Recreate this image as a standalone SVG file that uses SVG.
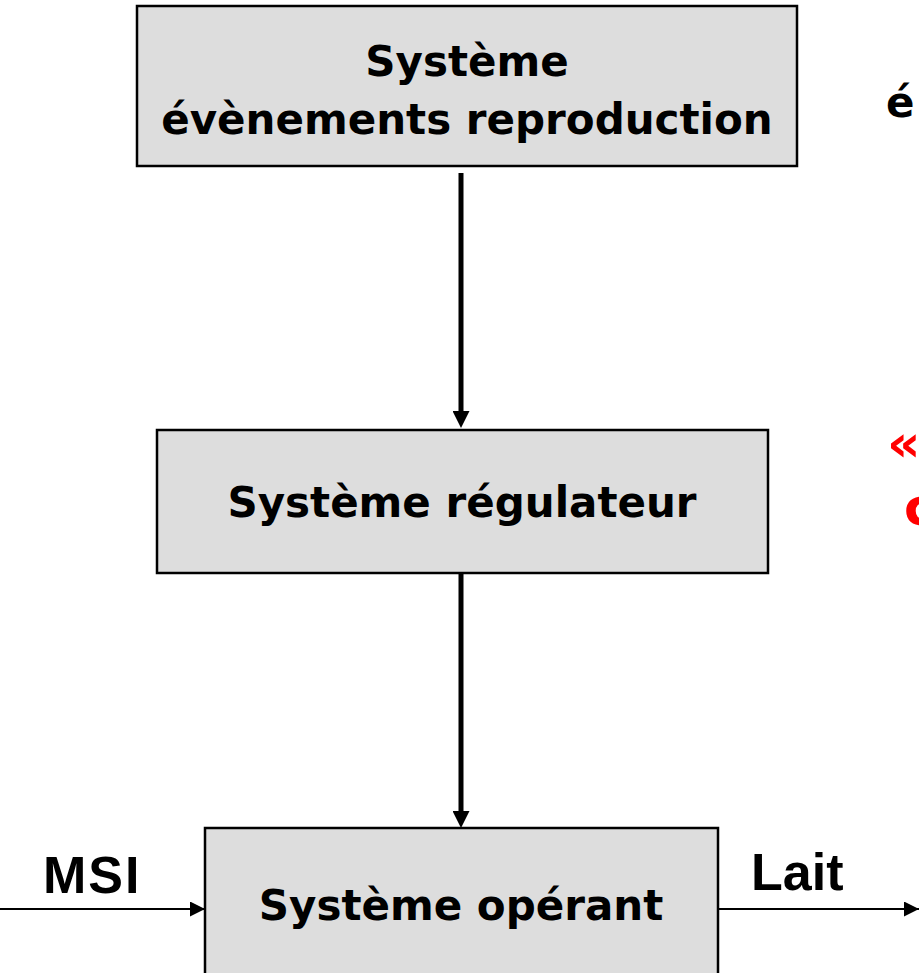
<svg xmlns="http://www.w3.org/2000/svg" width="919" height="973" viewBox="0 0 919 973">
<style>
.box{fill:#dddddd;stroke:#000;stroke-width:2.5}
.lbl{font-family:"DejaVu Sans",Verdana,sans-serif;font-weight:bold;font-size:42px;fill:#000;text-anchor:middle}
.side{font-family:"Liberation Sans",Arial,sans-serif;font-weight:bold;font-size:52px;fill:#000}
.cut{font-family:"DejaVu Sans",Verdana,sans-serif;font-weight:bold;font-size:42px;fill:#000}
.red{font-size:52px;fill:#ff0000}
.thick{stroke:#000;stroke-width:5;fill:none}
.thin{stroke:#000;stroke-width:2;fill:none}
</style>
<defs>
<marker id="ah" viewBox="0 0 10 10" refX="0" refY="5" markerWidth="3.4" markerHeight="3.4" orient="auto" markerUnits="strokeWidth"><path d="M0,0 L10,5 L0,10 z" fill="#000"/></marker>
<marker id="ahs" viewBox="0 0 10 10" refX="10" refY="5" markerWidth="7.5" markerHeight="7.5" orient="auto" markerUnits="strokeWidth"><path d="M0,0 L10,5 L0,10 z" fill="#000"/></marker>
</defs>
<g id="node-reproduction">
<rect class="box" x="137" y="6" width="660" height="160"/>
<text class="lbl" x="467" y="76">Système</text>
<text class="lbl" x="467" y="134">évènements reproduction</text>
</g>
<g id="node-regulateur">
<rect class="box" x="157" y="430" width="611" height="143"/>
<text class="lbl" x="462" y="517">Système régulateur</text>
</g>
<g id="node-operant">
<rect class="box" x="205" y="828" width="513" height="160"/>
<text class="lbl" x="461" y="920">Système opérant</text>
</g>
<g id="connectors">
<line class="thick" x1="461" y1="173" x2="461" y2="411" marker-end="url(#ah)"/>
<line class="thick" x1="461" y1="573" x2="461" y2="811" marker-end="url(#ah)"/>
<line class="thin" x1="0" y1="909" x2="205" y2="909" marker-end="url(#ahs)"/>
<line class="thin" x1="718" y1="909" x2="919" y2="909" marker-end="url(#ahs)"/>
</g>
<g id="labels">
<text class="side" x="43" y="893" letter-spacing="2">MSI</text>
<text class="side" x="751" y="890">Lait</text>
<text class="cut" x="886" y="117">é</text>
<text class="cut red" x="887" y="461">«</text>
<text class="cut red" x="904" y="525">c</text>
</g>
</svg>
